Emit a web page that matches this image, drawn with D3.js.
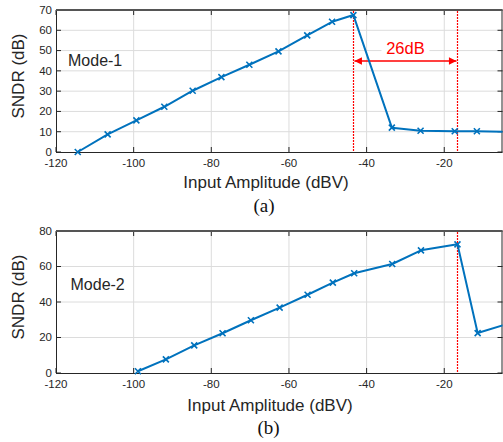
<!DOCTYPE html>
<html>
<head>
<meta charset="utf-8">
<script src="https://cdn.jsdelivr.net/npm/d3@7"></script>
<style>
    body { margin: 0; background: #fff; }
    svg { display: block; }
    .tickText { font-family: 'Liberation Sans', Arial, sans-serif; font-size: 11.5px; fill: #262626; }
    .axisTitle { font-family: 'Liberation Sans', Arial, sans-serif; font-size: 17px; fill: #262626; }
    .modeText { font-family: 'Liberation Sans', Arial, sans-serif; font-size: 16px; fill: #262626; }
    .caption { font-family: 'Liberation Serif', 'Times New Roman', serif; font-size: 19px; fill: #111; }
</style>
</head>
<body>
<svg id="chart" width="503" height="442"></svg>
<script>
// Mode-1 measurements
const mode1X = [-114.4, -106.7, -99.3, -92.1, -84.8, -77.4, -70.2, -62.7, -55.3, -48.9, -43.4, -33.5, -26.1, -17.3, -11.6, -3]
const mode1Y = [0, 8.7, 15.6, 22.3, 30.2, 36.9, 43, 49.6, 57.5, 64.2, 67.5, 12, 10.5, 10.2, 10.2, 10.0]

// Mode-2 measurements
const mode2X = [-98.9, -91.7, -84.4, -77.1, -69.8, -62.4, -55.2, -48.7, -43.2, -33.4, -26.0, -16.6, -11.4, -3]
const mode2Y = [1.0, 7.7, 15.6, 22.4, 29.7, 36.8, 44.1, 50.9, 56.2, 61.4, 69.1, 72.5, 22.5, 28.2]

const xTicks = [-120, -100, -80, -60, -40, -20]
const yTicks1 = [0, 10, 20, 30, 40, 50, 60, 70]
const yTicks2 = [0, 20, 40, 60, 80]

// annotation values
const mode1Markers = [-43.4, -16.6]
const mode1ArrowY = 44.8
const mode1Range = '26dB'
const mode2Markers = [-16.6]

const lineColor = '#0072BD'
const gridColor = '#dcdcdc'
const axisColor = '#262626'
const redColor = '#ff0000'

const svg = d3.select('#chart')

svg.append('defs').append('marker')
    .attr('id', 'arrowHead')
    .attr('viewBox', '0 0 10 10')
    .attr('refX', 10)
    .attr('refY', 5)
    .attr('markerWidth', 6)
    .attr('markerHeight', 5)
    .attr('markerUnits', 'strokeWidth')
    .attr('orient', 'auto-start-reverse')
    .append('path')
    .attr('d', 'M0,0 L10,5 L0,10 Z')
    .attr('fill', redColor)

function drawPanel(cfg) {
    const x = d3.scaleLinear().domain([-120, -5]).range([56, 502.5])
    const y = d3.scaleLinear().domain(cfg.yDomain).range([cfg.bottom, cfg.top])
    const g = svg.append('g')
    const clipId = 'clip' + cfg.id

    g.append('clipPath').attr('id', clipId)
        .append('rect')
        .attr('x', x.range()[0]).attr('y', cfg.top - 6)
        .attr('width', x.range()[1] - x.range()[0]).attr('height', cfg.bottom - cfg.top + 12)

    // grid
    g.append('g').selectAll(null).data(xTicks.slice(1)).enter()
        .append('line')
        .attr('x1', d => x(d)).attr('x2', d => x(d))
        .attr('y1', cfg.top).attr('y2', cfg.bottom)
        .attr('stroke', gridColor)
    g.append('g').selectAll(null).data(cfg.yTicks.slice(1, -1)).enter()
        .append('line')
        .attr('x1', x.range()[0]).attr('x2', x.range()[1])
        .attr('y1', d => y(d)).attr('y2', d => y(d))
        .attr('stroke', gridColor)

    // ticks inward on all sides
    const ticks = g.append('g').attr('stroke', axisColor)
    ticks.selectAll(null).data(xTicks).enter().append('line')
        .attr('x1', d => x(d)).attr('x2', d => x(d))
        .attr('y1', cfg.bottom).attr('y2', cfg.bottom - 5)
    ticks.selectAll(null).data(xTicks).enter().append('line')
        .attr('x1', d => x(d)).attr('x2', d => x(d))
        .attr('y1', cfg.top).attr('y2', cfg.top + 5)
    ticks.selectAll(null).data(cfg.yTicks).enter().append('line')
        .attr('x1', x.range()[0]).attr('x2', x.range()[0] + 5)
        .attr('y1', d => y(d)).attr('y2', d => y(d))
    ticks.selectAll(null).data(cfg.yTicks).enter().append('line')
        .attr('x1', x.range()[1] - 5).attr('x2', x.range()[1])
        .attr('y1', d => y(d)).attr('y2', d => y(d))

    // box
    g.append('rect')
        .attr('x', x.range()[0] + 0.5).attr('y', cfg.top + 0.5)
        .attr('width', x.range()[1] - x.range()[0] - 1).attr('height', cfg.bottom - cfg.top)
        .attr('fill', 'none').attr('stroke', axisColor)
    g.append('line')
        .attr('x1', x.range()[0]).attr('x2', x.range()[1])
        .attr('y1', cfg.top).attr('y2', cfg.top)
        .attr('stroke', '#555').attr('stroke-width', 2)

    // tick labels
    g.append('g').selectAll(null).data(xTicks).enter()
        .append('text')
        .classed('tickText', true)
        .attr('x', d => x(d)).attr('y', cfg.bottom + 15)
        .attr('text-anchor', 'middle')
        .text(d => d)
    g.append('g').selectAll(null).data(cfg.yTicks).enter()
        .append('text')
        .classed('tickText', true)
        .attr('x', 52).attr('y', d => y(d)).attr('dy', '0.34em')
        .attr('text-anchor', 'end')
        .text(d => d)

    // red dotted markers
    g.append('g').selectAll(null).data(cfg.markers).enter()
        .append('line')
        .attr('x1', d => Math.round(x(d)) + 0.5).attr('x2', d => Math.round(x(d)) + 0.5)
        .attr('y1', cfg.top + 1).attr('y2', cfg.bottom)
        .attr('stroke', redColor).attr('stroke-width', 1.2)
        .attr('stroke-dasharray', '2,1')

    if (cfg.arrow) {
        const ax0 = x(cfg.markers[0]), ax1 = x(cfg.markers[1])
        const ay = y(cfg.arrow.y)
        g.append('line')
            .attr('x1', ax0 + 1).attr('x2', ax1 - 1)
            .attr('y1', ay).attr('y2', ay)
            .attr('stroke', redColor).attr('stroke-width', 1.5)
            .attr('marker-start', 'url(#arrowHead)')
            .attr('marker-end', 'url(#arrowHead)')
        const cx = (ax0 + ax1) / 2
        g.append('rect')
            .attr('x', cx - 24).attr('y', ay - 22)
            .attr('width', 48).attr('height', 17)
            .attr('fill', '#fff')
        g.append('text')
            .attr('x', cx).attr('y', ay - 7.5)
            .attr('text-anchor', 'middle')
            .style('font-family', "'Liberation Sans', Arial, sans-serif")
            .style('font-size', '16.5px')
            .attr('fill', redColor)
            .text(cfg.arrow.label)
    }

    // series
    const pts = cfg.xs.map((d, i) => [d, cfg.ys[i]])
    const series = g.append('g').attr('clip-path', `url(#${clipId})`)
    series.append('path')
        .datum(pts)
        .attr('d', d3.line().x(d => x(d[0])).y(d => y(d[1])))
        .attr('fill', 'none')
        .attr('stroke', lineColor)
        .attr('stroke-width', 2)
        .attr('stroke-linejoin', 'round')
    series.selectAll(null).data(pts).enter()
        .append('path')
        .attr('transform', d => `translate(${x(d[0])},${y(d[1])})`)
        .attr('d', 'M-3,-3L3,3M-3,3L3,-3')
        .attr('stroke', lineColor)
        .attr('stroke-width', 1.6)

    // texts
    g.append('text').classed('modeText', true)
        .attr('x', cfg.modeX).attr('y', cfg.modeY)
        .text(cfg.mode)
    g.append('text').classed('axisTitle', true)
        .attr('x', cfg.xTitleX).attr('y', cfg.xTitleY)
        .attr('text-anchor', 'middle')
        .text('Input Amplitude (dBV)')
    g.append('text').classed('axisTitle', true)
        .attr('transform', `translate(24,${cfg.yTitleY}) rotate(-90)`)
        .attr('text-anchor', 'middle')
        .text('SNDR (dB)')
    g.append('text').classed('caption', true)
        .attr('x', cfg.capX).attr('y', cfg.capY)
        .attr('text-anchor', 'middle')
        .text(cfg.caption)
}

drawPanel({
    id: 1, top: 10, bottom: 152, yDomain: [0, 70], yTicks: yTicks1,
    xs: mode1X, ys: mode1Y, markers: mode1Markers,
    arrow: { y: mode1ArrowY, label: mode1Range },
    mode: 'Mode-1', modeX: 68, modeY: 66,
    xTitleX: 266, xTitleY: 187.5, yTitleY: 76,
    caption: '(a)', capX: 264, capY: 211.5
})

drawPanel({
    id: 2, top: 231, bottom: 373, yDomain: [0, 80], yTicks: yTicks2,
    xs: mode2X, ys: mode2Y, markers: mode2Markers,
    arrow: null,
    mode: 'Mode-2', modeX: 70.5, modeY: 290,
    xTitleX: 270, xTitleY: 410.5, yTitleY: 297,
    caption: '(b)', capX: 268.5, capY: 434
})
</script>
</body>
</html>
